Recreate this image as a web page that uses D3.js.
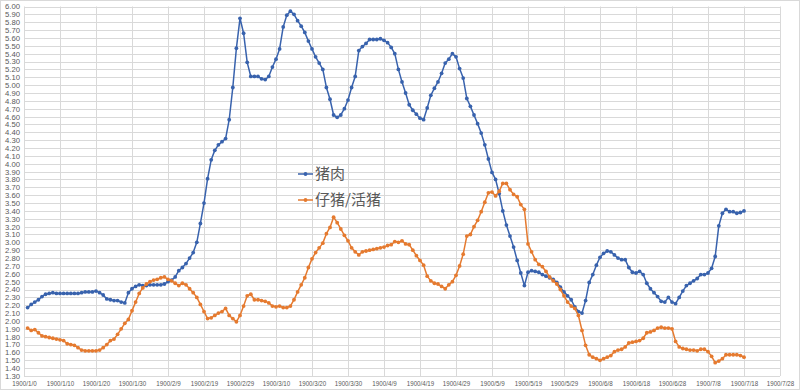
<!DOCTYPE html>
<html>
<head>
<meta charset="utf-8">
<script src="https://cdn.jsdelivr.net/npm/d3@7"></script>
<style>
  body { margin: 0; background: #fff; }
  svg { display: block; }
</style>
</head>
<body>
<svg id="chart" width="800" height="390"></svg>
<script>
// day numbers start at 1900/1/1 (Excel serial 1), one point per day
const firstDay = 1;

// 猪肉
const pork = [
  2.17, 2.21, 2.24, 2.27, 2.31, 2.34, 2.35, 2.36, 2.35, 2.35,
  2.35, 2.35, 2.35, 2.35, 2.35, 2.36, 2.37, 2.37, 2.37, 2.38,
  2.36, 2.33, 2.28, 2.27, 2.26, 2.26, 2.24, 2.23, 2.36, 2.41,
  2.44, 2.46, 2.45, 2.45, 2.46, 2.46, 2.46, 2.46, 2.47, 2.50,
  2.52, 2.56, 2.64, 2.68, 2.73, 2.80, 2.87, 3.00, 3.24, 3.50,
  3.81, 4.05, 4.17, 4.24, 4.28, 4.32, 4.56, 4.97, 5.47, 5.85,
  5.66, 5.29, 5.11, 5.11, 5.11, 5.08, 5.07, 5.11, 5.23, 5.33,
  5.46, 5.74, 5.89, 5.94, 5.90, 5.82, 5.75, 5.67, 5.56, 5.46,
  5.36, 5.28, 5.20, 4.97, 4.82, 4.62, 4.59, 4.62, 4.70, 4.81,
  4.97, 5.11, 5.44, 5.49, 5.53, 5.58, 5.58, 5.58, 5.59, 5.57,
  5.54, 5.48, 5.40, 5.20, 5.04, 4.90, 4.75, 4.68, 4.63, 4.58,
  4.56, 4.71, 4.87, 4.96, 5.04, 5.15, 5.28, 5.33, 5.40, 5.36,
  5.21, 5.09, 4.83, 4.73, 4.62, 4.51, 4.39, 4.24, 4.06, 3.89,
  3.80, 3.62, 3.40, 3.22, 3.08, 2.94, 2.77, 2.61, 2.45, 2.62,
  2.64, 2.63, 2.62, 2.59, 2.57, 2.55, 2.53, 2.49, 2.43, 2.37,
  2.32, 2.27, 2.18, 2.12, 2.10, 2.26, 2.49, 2.59, 2.71, 2.81,
  2.86, 2.89, 2.88, 2.84, 2.80, 2.78, 2.78, 2.68, 2.62, 2.61,
  2.63, 2.59, 2.48, 2.41, 2.36, 2.31, 2.25, 2.24, 2.30, 2.24,
  2.22, 2.30, 2.38, 2.45, 2.48, 2.51, 2.54, 2.59, 2.59, 2.61,
  2.67, 2.82, 3.21, 3.37, 3.42, 3.39, 3.39, 3.37, 3.38, 3.40
];

// 仔猪/活猪
const piglet = [
  1.91, 1.88, 1.89, 1.85, 1.81, 1.80, 1.79, 1.78, 1.77, 1.76,
  1.75, 1.71, 1.70, 1.69, 1.66, 1.63, 1.62, 1.62, 1.62, 1.62,
  1.63, 1.66, 1.70, 1.75, 1.77, 1.83, 1.90, 1.97, 2.02, 2.13,
  2.24, 2.35, 2.42, 2.47, 2.50, 2.52, 2.53, 2.55, 2.56, 2.53,
  2.51, 2.48, 2.45, 2.48, 2.46, 2.41, 2.36, 2.30, 2.21, 2.12,
  2.03, 2.04, 2.07, 2.10, 2.12, 2.16, 2.07, 2.03, 1.99, 2.07,
  2.19, 2.32, 2.34, 2.27, 2.27, 2.26, 2.25, 2.23, 2.19, 2.18,
  2.19, 2.17, 2.17, 2.19, 2.27, 2.37, 2.46, 2.55, 2.68, 2.79,
  2.87, 2.93, 2.99, 3.11, 3.19, 3.32, 3.25, 3.17, 3.09, 3.02,
  2.93, 2.88, 2.84, 2.88, 2.89, 2.90, 2.91, 2.92, 2.93, 2.94,
  2.96, 2.97, 3.01, 3.00, 3.02, 2.98, 2.97, 2.90, 2.83, 2.77,
  2.71, 2.57, 2.51, 2.48, 2.47, 2.44, 2.41, 2.46, 2.50, 2.58,
  2.70, 2.85, 3.08, 3.10, 3.20, 3.28, 3.39, 3.51, 3.63, 3.64,
  3.59, 3.65, 3.75, 3.75, 3.67, 3.61, 3.58, 3.48, 3.42, 2.98,
  2.88, 2.78, 2.72, 2.69, 2.63, 2.56, 2.51, 2.47, 2.40, 2.32,
  2.24, 2.19, 2.16, 2.07, 1.88, 1.69, 1.57, 1.54, 1.52, 1.50,
  1.52, 1.54, 1.56, 1.61, 1.63, 1.64, 1.67, 1.72, 1.73, 1.74,
  1.75, 1.78, 1.85, 1.86, 1.88, 1.91, 1.92, 1.91, 1.91, 1.90,
  1.74, 1.67, 1.65, 1.64, 1.63, 1.63, 1.62, 1.64, 1.64, 1.61,
  1.55, 1.47, 1.49, 1.52, 1.57, 1.57, 1.57, 1.57, 1.56, 1.54
];

const seriesNames = ["猪肉", "仔猪/活猪"];

// x tick labels every 10 days (Excel's 1900 calendar, with its 2/29)
const xTickLabels = [
  "1900/1/0", "1900/1/10", "1900/1/20", "1900/1/30", "1900/2/9", "1900/2/19",
  "1900/2/29", "1900/3/10", "1900/3/20", "1900/3/30", "1900/4/9", "1900/4/19",
  "1900/4/29", "1900/5/9", "1900/5/19", "1900/5/29", "1900/6/8", "1900/6/18",
  "1900/6/28", "1900/7/8", "1900/7/18", "1900/7/28"
];
const xTickDays = [0, 10, 20, 30, 40, 50, 60, 70, 80, 90, 100, 110,
  120, 130, 140, 150, 160, 170, 180, 190, 200, 210];

const yMin = 1.3, yMax = 6.0, yStep = 0.1;

let svg = d3.select("#chart");
let width = 800, height = 390;
let padding = {top: 6.5, bottom: 14, left: 24, right: 20};

let colors = ["#3862ad", "#e57a2f"];

// chart border
svg.append("rect")
  .attr("x", 0.5).attr("y", 0.5)
  .attr("width", width - 1).attr("height", height - 1)
  .attr("fill", "#fff")
  .attr("stroke", "#d9d9d9");

let x = d3.scaleLinear()
  .domain([0, 210])
  .range([padding.left, width - padding.right]);

let y = d3.scaleLinear()
  .domain([yMin, yMax])
  .range([height - padding.bottom, padding.top]);

let yTicks = d3.range(Math.round((yMax - yMin) / yStep) + 1).map(function(i) {
  return +(yMin + i * yStep).toFixed(2);
});

// gridlines
let grid = svg.append("g").attr("class", "grid");
grid.selectAll("line.h")
  .data(yTicks)
  .enter()
  .append("line")
  .attr("class", "h")
  .attr("x1", x(0)).attr("x2", x(210))
  .attr("y1", function(d) { return Math.round(y(d)) + 0.5; })
  .attr("y2", function(d) { return Math.round(y(d)) + 0.5; })
  .attr("stroke", "#d9d9d9")
  .attr("stroke-width", 1);

grid.selectAll("line.v")
  .data(xTickDays)
  .enter()
  .append("line")
  .attr("class", "v")
  .attr("x1", function(d) { return Math.round(x(d)) + 0.5; })
  .attr("x2", function(d) { return Math.round(x(d)) + 0.5; })
  .attr("y1", y(yMax)).attr("y2", y(yMin))
  .attr("stroke", "#d9d9d9")
  .attr("stroke-width", 1);

// axis labels - the original text is squeezed, so fix the drawn widths
let labelFont = "'Liberation Sans', Arial, sans-serif";

let yAxis = d3.axisLeft(y)
  .tickValues(yTicks)
  .tickFormat(d3.format(".2f"))
  .tickSize(0)
  .tickPadding(4);

let gY = svg.append("g")
  .attr("transform", "translate(" + x(0) + ",0)")
  .call(yAxis);
gY.select(".domain").remove();
gY.selectAll("text")
  .attr("font-family", labelFont)
  .attr("font-size", "7.6px")
  .attr("fill", "#595959")
  .attr("textLength", 15)
  .attr("lengthAdjust", "spacingAndGlyphs");

let xAxis = d3.axisBottom(x)
  .tickValues(xTickDays)
  .tickFormat(function(d, i) { return xTickLabels[i]; })
  .tickSize(0)
  .tickPadding(5);

let gX = svg.append("g")
  .attr("transform", "translate(0," + y(yMin) + ")")
  .call(xAxis);
gX.select(".domain").remove();
gX.selectAll("text")
  .attr("font-family", labelFont)
  .attr("font-size", "7.6px")
  .attr("fill", "#595959")
  .attr("textLength", function(d, i) { return xTickLabels[i].length * 3.05; })
  .attr("lengthAdjust", "spacingAndGlyphs");

// series
let allSeries = [pork, piglet].map(function(vals, k) {
  return {
    name: seriesNames[k],
    color: colors[k],
    points: vals.map(function(v, i) { return {day: firstDay + i, value: v}; })
  };
});

let line = d3.line()
  .x(function(d) { return x(d.day); })
  .y(function(d) { return y(d.value); });

let plots = svg.selectAll("g.series")
  .data(allSeries)
  .enter()
  .append("g")
  .attr("class", "series");

plots.append("path")
  .attr("d", function(s) { return line(s.points); })
  .attr("fill", "none")
  .attr("stroke", function(s) { return s.color; })
  .attr("stroke-width", 1.5)
  .attr("stroke-linejoin", "round");

plots.each(function(s) {
  d3.select(this).selectAll("circle")
    .data(s.points)
    .enter()
    .append("circle")
    .attr("cx", function(d) { return x(d.day); })
    .attr("cy", function(d) { return y(d.value); })
    .attr("r", 1.9)
    .attr("fill", s.color);
});

// legend in the middle of the plot
let legend = svg.append("g").attr("transform", "translate(298,174)");
let items = legend.selectAll("g")
  .data(allSeries)
  .enter()
  .append("g")
  .attr("transform", function(d, i) { return "translate(0," + (i * 26) + ")"; });

items.append("line")
  .attr("x1", 0).attr("x2", 15)
  .attr("y1", 0).attr("y2", 0)
  .attr("stroke", function(d) { return d.color; })
  .attr("stroke-width", 1.5);
items.append("circle")
  .attr("cx", 7.5).attr("cy", 0).attr("r", 1.9)
  .attr("fill", function(d) { return d.color; });
items.append("text")
  .attr("x", 17)
  .attr("y", 0)
  .attr("dy", "0.36em")
  .attr("font-family", "'Noto Sans CJK SC', sans-serif")
  .attr("font-size", "15px")
  .attr("fill", "#595959")
  .text(function(d) { return d.name; });
</script>
</body>
</html>
